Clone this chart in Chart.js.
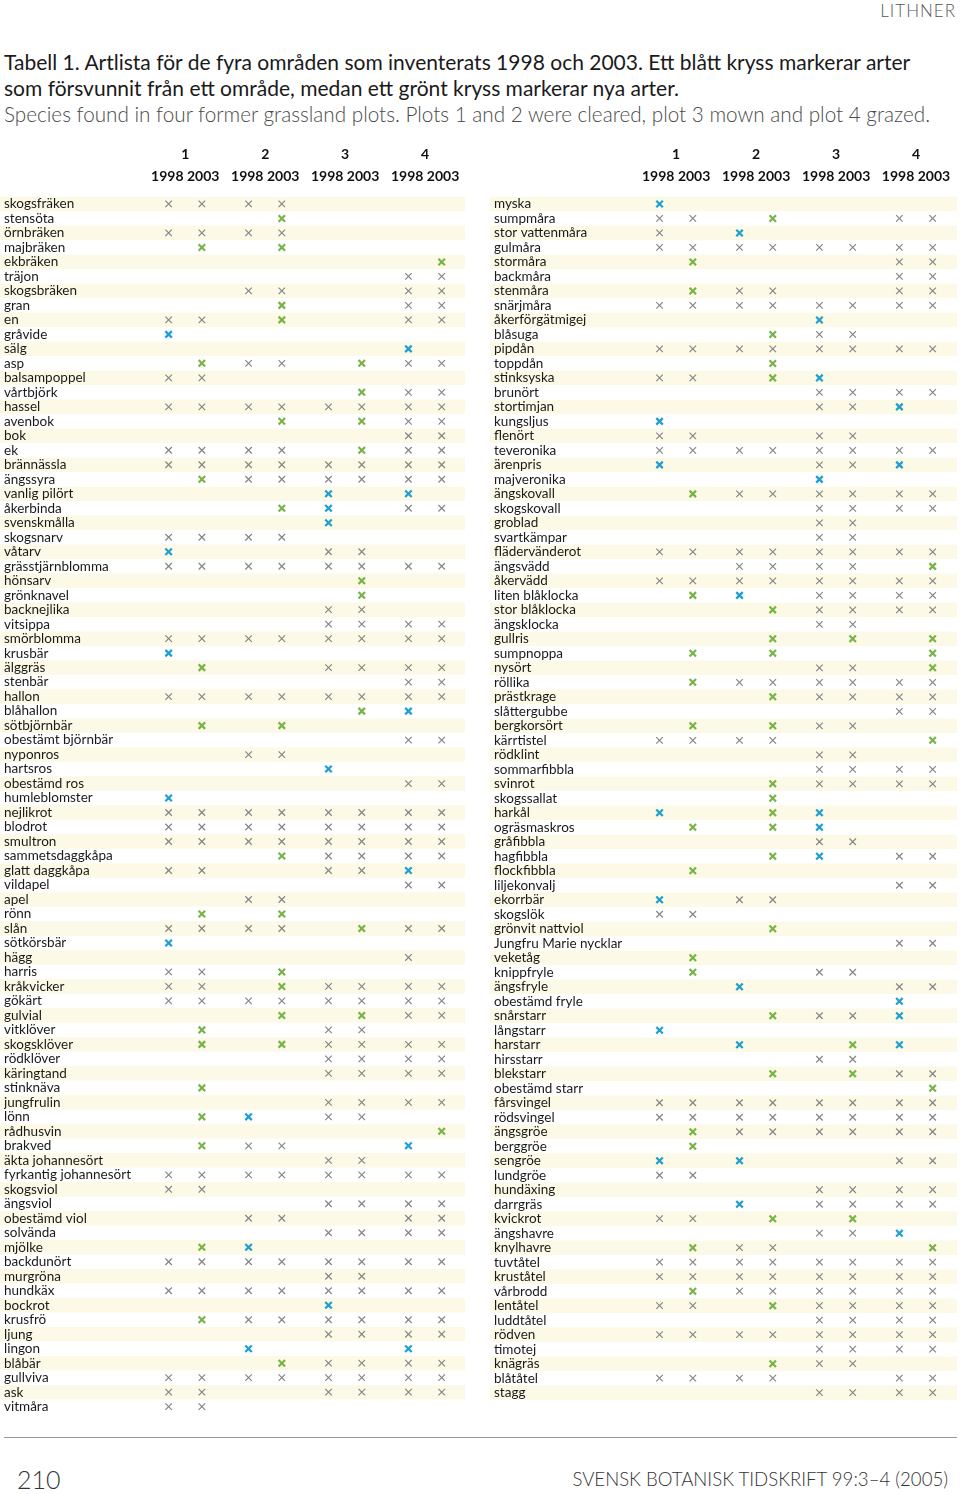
<!DOCTYPE html>
<html>
<head>
<meta charset="utf-8">
<script src="https://cdn.jsdelivr.net/npm/chart.js@4.4.1/dist/chart.umd.min.js"></script>
<style>
  body { margin: 0; width: 960px; height: 1494px; position: relative; background: #fff; overflow: hidden; font-family: Lato, "Open Sans", sans-serif; color: #1a1a1a; }
  #runhead { position: absolute; right: 4px; top: 0; font-size: 17px; letter-spacing: 1px; color: #555; font-weight: 300; }
  #caption { position: absolute; left: 4px; top: 49px; font-size: 21px; line-height: 26px; white-space: nowrap; }
  #caption .en { color: #4a4a4a; font-weight: 300; font-size: 20.7px; }
  #leftChart { position: absolute; left: 0; top: 140px; }
  #rightChart { position: absolute; left: 488px; top: 140px; }
  #rule { position: absolute; left: 4px; top: 1437px; width: 953px; height: 1px; background: #999; }
  #folio { position: absolute; left: 17px; top: 1464px; font-size: 25px; font-weight: 300; color: #333; }
  #journal { position: absolute; right: 12px; top: 1468px; font-size: 18.6px; font-weight: 300; color: #333; }
</style>
</head>
<body>
<div id="runhead">LITHNER</div>
<div id="caption">
  <div>Tabell 1. Artlista för de fyra områden som inventerats 1998 och 2003. Ett blått kryss markerar arter</div>
  <div>som försvunnit från ett område, medan ett grönt kryss markerar nya arter.</div>
  <div class="en">Species found in four former grassland plots. Plots 1 and 2 were cleared, plot 3 mown and plot 4 grazed.</div>
</div>
<canvas id="leftChart" width="470" height="1282"></canvas>
<canvas id="rightChart" width="472" height="1268"></canvas>
<div id="rule"></div>
<div id="folio">210</div>
<div id="journal">SVENSK BOTANISK TIDSKRIFT 99:3–4 (2005)</div>

<script>
  // plots and years shown in the column header
  const plots = [1, 2, 3, 4];
  const years = ["1998", "2003"];

  // one string per species, eight columns: plot 1 1998, plot 1 2003, plot 2 1998 ...
  // x = present, b = blue cross (disappeared), g = green cross (new), . = absent
  const leftSpecies = [
    "skogsfräken", "stensöta", "örnbräken", "majbräken", "ekbräken", "träjon", "skogsbräken", "gran",
    "en", "gråvide", "sälg", "asp", "balsampoppel", "vårtbjörk", "hassel", "avenbok", "bok", "ek",
    "brännässla", "ängssyra", "vanlig pilört", "åkerbinda", "svenskmålla", "skogsnarv", "våtarv",
    "grässtjärnblomma", "hönsarv", "grönknavel", "backnejlika", "vitsippa", "smörblomma", "krusbär",
    "älggräs", "stenbär", "hallon", "blåhallon", "sötbjörnbär", "obestämt björnbär", "nyponros",
    "hartsros", "obestämd ros", "humleblomster", "nejlikrot", "blodrot", "smultron", "sammetsdaggkåpa",
    "glatt daggkåpa", "vildapel", "apel", "rönn", "slån", "sötkörsbär", "hägg", "harris", "kråkvicker",
    "gökärt", "gulvial", "vitklöver", "skogsklöver", "rödklöver", "käringtand", "stinknäva", "jungfrulin",
    "lönn", "rådhusvin", "brakved", "äkta johannesört", "fyrkantig johannesört", "skogsviol", "ängsviol",
    "obestämd viol", "solvända", "mjölke", "backdunört", "murgröna", "hundkäx", "bockrot", "krusfrö",
    "ljung", "lingon", "blåbär", "gullviva", "ask", "vitmåra"
  ];
  const leftMarks = [
    "xxxx....", "...g....", "xxxx....", ".g.g....", ".......g", "......xx", "..xx..xx", "...g..xx",
    "xx.g..xx", "b.......", "......b.", ".gxx.gxx", "xx......", ".....gxx", "xxxxxxxx", "...g.gxx", "......xx", "xxxx.gxx",
    "xxxxxxxx", ".gxxxxxx", "....b.b.", "...gb.xx", "....b...", "xxxx....", "b...xx..",
    "xxxxxxxx", ".....g..", ".....g..", "....xx..", "....xxxx", "xxxxxxxx", "b.......",
    ".g..xxxx", "......xx", "xxxxxxxx", ".....gb.", ".g.g....", "......xx", "..xx....",
    "....b...", "......xx", "b.......", "xxxxxxxx", "xxxxxxxx", "xxxxxxxx", "...gxxxx",
    "xx..xxb.", "......xx", "..xx....", ".g.g....", "xxxx.gxx", "b.......", "......x.", "xx.g....", "xx.gxxxx",
    "xxxxxxxx", "...g.gxx", ".g..xx..", ".g.gxxxx", "....xxxx", "....xxxx", ".g......", "....xxxx",
    ".gb.xx..", ".......g", ".gxx..b.", "....xx..", "xxxxxxxx", "xx......", "....xxxx",
    "..xx..xx", "....xxxx", ".gb.....", "xxxxxxxx", "....xx..", "xxxxxxxx", "....b...", ".gxxxxxx",
    "....xxxx", "..b...b.", "...gxxxx", "xxxxxxxx", "xx..xxxx", "xx......"
  ];

  const rightSpecies = [
    "myska", "sumpmåra", "stor vattenmåra", "gulmåra", "stormåra", "backmåra", "stenmåra", "snärjmåra",
    "åkerförgätmigej", "blåsuga", "pipdån", "toppdån", "stinksyska", "brunört", "stortimjan", "kungsljus",
    "flenört", "teveronika", "ärenpris", "majveronika", "ängskovall", "skogskovall", "groblad", "svartkämpar",
    "flädervänderot", "ängsvädd", "åkervädd", "liten blåklocka", "stor blåklocka", "ängsklocka", "gullris",
    "sumpnoppa", "nysört", "röllika", "prästkrage", "slåttergubbe", "bergkorsört", "kärrtistel", "rödklint",
    "sommarfibbla", "svinrot", "skogssallat", "harkål", "ogräsmaskros", "gråfibbla", "hagfibbla",
    "flockfibbla", "liljekonvalj", "ekorrbär", "skogslök", "grönvit nattviol", "Jungfru Marie nycklar",
    "veketåg", "knippfryle", "ängsfryle", "obestämd fryle", "snårstarr", "långstarr", "harstarr",
    "hirsstarr", "blekstarr", "obestämd starr", "fårsvingel", "rödsvingel", "ängsgröe", "berggröe",
    "sengröe", "lundgröe", "hundäxing", "darrgräs", "kvickrot", "ängshavre", "knylhavre", "tuvtåtel",
    "kruståtel", "vårbrodd", "lentåtel", "luddtåtel", "rödven", "timotej", "knägräs", "blåtåtel", "stagg"
  ];
  const rightMarks = [
    "b.......", "xx.g..xx", "x.b.....", "xxxxxxxx", ".g....xx", "......xx", ".gxx..xx", "xxxxxxxx",
    "....b...", "...gxx..", "xxxxxxxx", "...g....", "xx.gb...", "....xxxx", "....xxb.", "b.......",
    "xx..xx..", "xxxxxxxx", "b...xxb.", "....b...", ".gxxxxxx", "....xxxx", "....xx..", "....xx..",
    "xxxxxxxx", "..xxxx.g", "xxxxxxxx", ".gb.xxxx", "...gxxxx", "....xx..", "...g.g.g",
    ".g.g...g", "....xx.g", ".gxxxxxx", "...gxxxx", "......xx", ".g.gxx..", "xxxx...g", "....xx..",
    "....xxxx", "...gxxxx", "...g....", "b..gb...", ".g.gb...", "....xx..", "...gb.xx",
    ".g......", "......xx", "b.xx....", "xx......", "...g....", "......xx",
    ".g......", ".g..xx..", "..b...xx", "......b.", "...gxxb.", "b.......", "..b..gb.",
    "....xx..", "...g.gxx", ".......g", "xxxxxxxx", "xxxxxxxx", ".gxxxxxx", ".g......",
    "b.b...xx", "xx......", "....xxxx", "..b.xxxx", "xx.g.g..", "....xxb.", ".gxx...g", "xxxxxxxx",
    "xxxxxxxx", ".gxxxxxx", "xx.gxxxx", "....xxxx", "xxxxxxxx", "....xxxx", "...gxx..", "xxxx..xx", "....xxxx"
  ];

  const markStyles = {
    x: { color: "#858585", width: 1.2 },
    b: { color: "#1e9fd3", width: 2.2 },
    g: { color: "#78b445", width: 2.2 }
  };

  const YEAR_OFFSET = 0.208;

  function buildDatasets(species, marks) {
    return Object.keys(markStyles).map((kind) => {
      const points = [];
      marks.forEach((row, rowIndex) => {
        row.split("").forEach((cell, col) => {
          if (cell === kind) {
            const plot = plots[Math.floor(col / 2)];
            const x = plot + (col % 2 === 0 ? -YEAR_OFFSET : YEAR_OFFSET);
            // category axis: point at the species label, not a raw index
            points.push({ x, y: species[rowIndex] });
          }
        });
      });
      return {
        data: points,
        pointStyle: "crossRot",
        pointRadius: 4.6,
        borderColor: markStyles[kind].color,
        pointBorderWidth: markStyles[kind].width,
        backgroundColor: markStyles[kind].color
      };
    });
  }

  // pale yellow band behind every second row
  const rowStripes = {
    id: "rowStripes",
    beforeDraw(chart, args, opts) {
      const { ctx, scales: { y } } = chart;
      const count = y.getLabels().length;
      const band = y.height / count;
      ctx.save();
      ctx.fillStyle = opts.color;
      for (let i = 0; i < count; i += 2) {
        const center = y.getPixelForValue(i);
        ctx.fillRect(opts.left, center - band / 2, chart.width - opts.right - opts.left, band);
      }
      ctx.restore();
    }
  };

  function makeTable(canvasId, species, marks, cfg) {
    const ctx = document.getElementById(canvasId).getContext("2d");
    return new Chart(ctx, {
      type: "scatter",
      data: { datasets: buildDatasets(species, marks) },
      plugins: [rowStripes],
      options: {
        responsive: false,
        animation: false,
        layout: { padding: { left: cfg.padLeft, right: 0, top: 0, bottom: 0 } },
        plugins: {
          legend: { display: false },
          tooltip: { enabled: false },
          rowStripes: { color: "#fcfae6", left: cfg.stripeLeft, right: cfg.stripeRight }
        },
        scales: {
          x: {
            type: "linear",
            position: "top",
            min: cfg.xMin,
            max: cfg.xMax,
            grid: { display: false, drawTicks: false },
            border: { display: false },
            afterBuildTicks(scale) {
              scale.ticks = plots.map((p) => ({ value: p }));
            },
            afterFit(scale) {
              scale.height = 56.7;
            },
            ticks: {
              padding: 9,
              color: "#111",
              maxRotation: 0,
              font: { family: "Lato, sans-serif", size: 14, weight: "bold", lineHeight: 1.57 },
              callback(value) {
                return [String(value), years.join(" ")];
              }
            }
          },
          y: {
            type: "category",
            labels: species,
            offset: true,
            grid: { display: false, drawTicks: false },
            border: { display: false },
            afterFit(scale) {
              scale.width = cfg.axisWidth;
            },
            ticks: {
              autoSkip: false,
              crossAlign: "far",
              padding: 0,
              color: "#1a1a1a",
              font: { family: "Lato, sans-serif", size: 13.5 }
            }
          }
        }
      }
    });
  }

  makeTable("leftChart", leftSpecies, leftMarks, {
    padLeft: 4, axisWidth: 146, xMin: 0.559, xMax: 4.477, stripeLeft: 0, stripeRight: 5
  });
  makeTable("rightChart", rightSpecies, rightMarks, {
    padLeft: 6, axisWidth: 144, xMin: 0.5225, xMax: 4.465, stripeLeft: 2, stripeRight: 3
  });
</script>
</body>
</html>
